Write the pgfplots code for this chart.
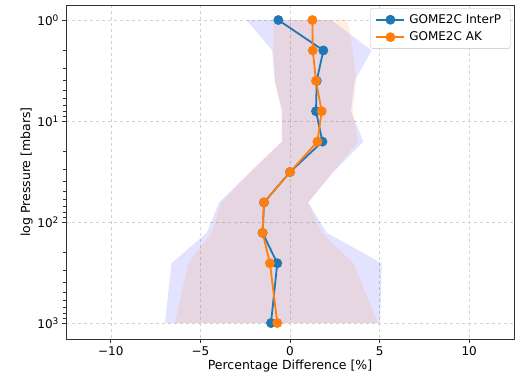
\documentclass[border=0pt]{standalone}
\usepackage{pgfplots}
\pgfplotsset{compat=1.18}
\usepackage{fontspec}
\setmainfont{DejaVu Sans}
\definecolor{tabblue}{RGB}{31,119,180}
\definecolor{taborange}{RGB}{255,127,14}
\begin{document}
\begin{tikzpicture}
\begin{axis}[
  name=ax,
  width=448pt, height=334pt, scale only axis,
  xmin=-12.5, xmax=12.5,
  ymode=log, y dir=reverse,
  ymin=0.71, ymax=1440,
  xtick={-10,-5,0,5,10},
  xticklabels={−10,−5,0,5,10},
  ytick={1,10,100,1000},
  yticklabels={10\raisebox{0.55ex}{\fontsize{9}{10}\selectfont 0},10\raisebox{0.55ex}{\fontsize{9}{10}\selectfont 1},10\raisebox{0.55ex}{\fontsize{9}{10}\selectfont 2},10\raisebox{0.55ex}{\fontsize{9}{10}\selectfont 3}},
  tick label style={font=\fontsize{12}{14}\selectfont},
  label style={font=\fontsize{12.5}{15}\selectfont},
  xlabel={Percentage Difference [\%]},
  ylabel={log Pressure [mbars]},
  xlabel style={yshift=2pt},
  ylabel style={yshift=-2pt},
  grid=major,
  major grid style={dashed, gray!35, line width=0.6pt},
  tick align=outside,
  tick pos=left,
  major tick length=4pt,
  minor tick length=2.5pt,
  axis line style={black!80, line width=0.8pt},
  every tick/.style={black!80, line width=0.7pt},
  legend style={at={(0.992,0.99)}, anchor=north east, draw=black!25, rounded corners=2pt,
    font=\fontsize{12}{14}\selectfont, row sep=3pt, inner xsep=5pt, inner ysep=4pt,
    /tikz/every even column/.append style={column sep=0pt},
    nodes={inner xsep=4pt}},
  legend cell align=left,
  legend image code/.code={\draw[#1, mark=none] (0pt,0pt) -- (28pt,0pt);
     \draw[#1, only marks] plot coordinates {(14pt,0pt)};},
]
% blue band
\addplot[draw=none, fill=blue, fill opacity=0.11, forget plot] table {
x y
-2.42 1
-1.00 2
-0.85 4
-0.45 8
-0.45 16
-2.23 32
-3.95 64
-4.65 128
-6.61 256
-6.98 1000
5.03 1000
5.12 256
2.05 128
1.02 64
2.42 32
4.10 16
3.40 8
3.60 4
4.56 2
2.30 1
};
% orange band
\addplot[draw=none, fill=taborange, fill opacity=0.12, forget plot] table {
x y
-0.93 1
-0.93 2
-0.85 4
-0.45 8
-0.45 16
-2.20 32
-3.85 64
-4.37 128
-5.68 256
-6.42 1000
4.90 1000
3.54 256
1.77 128
1.00 64
2.40 32
3.80 16
3.50 8
3.70 4
3.50 2
3.20 1
};
\addplot[tabblue, line width=1.8pt, mark=*, mark size=4pt, mark options={solid}] table {
x y
-0.65 1
1.86 2
1.49 4
1.45 8
1.81 16
0.00 32
-1.45 64
-1.53 128
-0.71 256
-1.06 1000
};
\addlegendentry{GOME2C InterP}
\addplot[taborange, line width=1.8pt, mark=*, mark size=4pt, mark options={solid}] table {
x y
1.25 1
1.27 2
1.45 4
1.77 8
1.53 16
0.00 32
-1.45 64
-1.53 128
-1.12 256
-0.71 1000
};
\addlegendentry{GOME2C AK}
\end{axis}
\path (ax.south west) ++(-66pt,-40pt) coordinate (bbA);
\path (ax.north east) ++(9pt,5pt) coordinate (bbB);
\pgfresetboundingbox
\path[use as bounding box] (bbA) rectangle (bbB);
\end{tikzpicture}
\end{document}
